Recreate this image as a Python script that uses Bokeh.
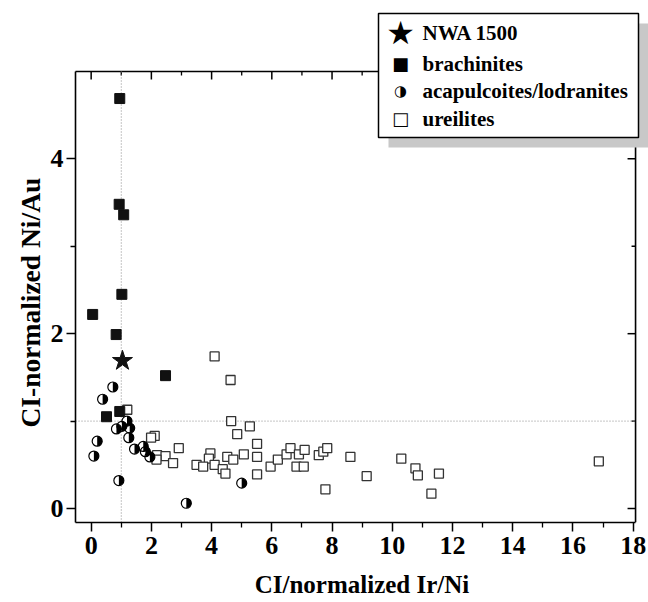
import numpy as np
from bokeh.plotting import figure
from bokeh.models import Range1d, FixedTicker, BoxAnnotation, Label, Title
from bokeh.embed import file_html
from bokeh.resources import INLINE

# ---------------- data ----------------
nwa_x = [1.04]
nwa_y = [1.69]

brach_x = [0.95, 0.93, 1.08, 1.02, 0.05, 0.83, 2.47, 0.51, 0.95]
brach_y = [4.69, 3.48, 3.36, 2.45, 2.22, 1.99, 1.52, 1.05, 1.11]

acap_x = [0.72, 0.38, 1.19, 0.84, 1.02, 1.28, 0.20, 1.25, 1.44, 1.73, 1.80, 1.95, 0.09, 0.92, 3.16, 5.00]
acap_y = [1.39, 1.25, 1.00, 0.91, 0.94, 0.92, 0.77, 0.81, 0.68, 0.71, 0.65, 0.59, 0.60, 0.32, 0.06, 0.29]

ureil_x = [1.20, 2.11, 1.99, 2.91, 2.19, 2.47, 2.17, 2.72, 4.10, 4.63, 4.65, 5.27, 4.85, 5.51,
           3.96, 3.91, 4.52, 4.72, 5.07, 5.51, 3.50, 3.72, 4.10, 4.37, 4.46, 5.51, 5.96, 6.20,
           6.49, 6.62, 6.90, 7.09, 6.82, 7.06, 7.56, 7.71, 7.84, 8.61, 9.15, 7.78, 10.30, 10.77,
           10.85, 11.55, 11.30, 16.86]
ureil_y = [1.13, 0.83, 0.81, 0.69, 0.61, 0.60, 0.56, 0.52, 1.74, 1.47, 1.00, 0.94, 0.85, 0.74,
           0.63, 0.57, 0.59, 0.56, 0.62, 0.59, 0.50, 0.48, 0.50, 0.45, 0.40, 0.39, 0.48, 0.56,
           0.62, 0.69, 0.62, 0.67, 0.48, 0.48, 0.61, 0.65, 0.69, 0.59, 0.37, 0.22, 0.57, 0.46,
           0.38, 0.40, 0.17, 0.54]

x_major = [0, 2, 4, 6, 8, 10, 12, 14, 16, 18]
x_minor = [1, 3, 5, 7, 9, 11, 13, 15, 17]
y_major = [0, 2, 4]
y_minor = [1, 3]
ref_x = 1.0
ref_y = 1.0

x_title = "CI/normalized Ir/Ni"
y_title = "CI-normalized Ni/Au"

# plot box (axes rectangle) in data units
X_LO, X_HI = -0.52, 18.08
Y_LO, Y_HI = -0.16, 5.0

legend_labels = ["NWA 1500", "brachinites", "acapulcoites/lodranites", "ureilites"]
legend_symbols = ["\u2605", "\u25A0", "\u25D1", "\u25A1"]

FONT = "Liberation Serif"
FW, FH = 573, 514          # frame extends beyond the axes box (room for legend)
XR = (X_LO, 18.51)
YR = (Y_LO, 5.72)
px_x = FW / (XR[1] - XR[0])
px_y = FH / (YR[1] - YR[0])

p = figure(frame_width=FW, frame_height=FH,
           x_range=Range1d(*XR), y_range=Range1d(*YR),
           output_backend="svg", toolbar_location=None,
           x_axis_label=x_title,
           min_border_left=75, min_border_right=0, min_border_top=8, min_border_bottom=80)
p.outline_line_color = None
p.xgrid.visible = False
p.ygrid.visible = False
p.background_fill_color = "white"
p.border_fill_color = "white"

LW = 1.6
for ax, ticks, minors, bnds in ((p.xaxis[0], x_major, x_minor, (X_LO, X_HI)),
                                (p.yaxis[0], y_major, y_minor, (Y_LO, Y_HI))):
    ax.ticker = FixedTicker(ticks=ticks, minor_ticks=minors)
    ax.bounds = bnds
    ax.axis_line_color = "black"
    ax.axis_line_width = LW
    ax.major_tick_line_color = "black"
    ax.minor_tick_line_color = "black"
    ax.major_tick_line_width = 1.5
    ax.minor_tick_line_width = 1.3
    ax.major_tick_in, ax.major_tick_out = 0, 9
    ax.minor_tick_in, ax.minor_tick_out = 0, 5
    ax.major_label_text_font = FONT
    ax.major_label_text_font_style = "bold"
    ax.major_label_text_font_size = "26px"
    ax.major_label_text_color = "black"
    ax.axis_label_text_font = FONT
    ax.axis_label_text_font_style = "bold"
    ax.axis_label_text_color = "black"

xa = p.xaxis[0]
ya = p.yaxis[0]
xa.major_label_standoff = 5
xa.axis_label_standoff = 14
xa.axis_label_text_font_size = "25px"
ya.major_label_standoff = 3

# y title as a left-side title so that it can be centred on the axes box
p.add_layout(Title(text=y_title, align="left", offset=95, standoff=4,
                   text_font=FONT, text_font_style="bold", text_font_size="27.5px",
                   text_color="black"), "left")

# top and right sides of the axes box, with inward ticks
tick_major_y = 8 / px_y
tick_minor_y = 4 / px_y
tick_major_x = 8 / px_x
tick_minor_x = 4 / px_x
p.segment(x0=[X_LO - 3 / px_x, X_HI], y0=[Y_HI, Y_LO], x1=[X_HI, X_HI], y1=[Y_HI, Y_HI],
          line_color="black", line_width=LW)
p.segment(x0=x_major, y0=[Y_HI] * len(x_major), x1=x_major,
          y1=[Y_HI - tick_major_y] * len(x_major), line_color="black", line_width=1.5)
p.segment(x0=x_minor, y0=[Y_HI] * len(x_minor), x1=x_minor,
          y1=[Y_HI - tick_minor_y] * len(x_minor), line_color="black", line_width=1.3)
p.segment(x0=[X_HI] * len(y_major), y0=y_major, x1=[X_HI - tick_major_x] * len(y_major),
          y1=y_major, line_color="black", line_width=1.5)
p.segment(x0=[X_HI] * len(y_minor), y0=y_minor, x1=[X_HI - tick_minor_x] * len(y_minor),
          y1=y_minor, line_color="black", line_width=1.3)

# dotted reference lines at 1
p.segment(x0=[ref_x, X_LO], y0=[Y_LO, ref_y], x1=[ref_x, X_HI], y1=[Y_HI, ref_y],
          line_color="#8a8a8a", line_dash="1 2", line_width=1)

# ureilites
p.scatter(ureil_x, ureil_y, marker="square", size=9, fill_color="white",
          line_color="#333333", line_width=1.3)
# acapulcoites / lodranites (half-filled circles)
p.scatter(acap_x, acap_y, marker="circle", size=10, fill_color="white", line_color=None)
p.wedge(acap_x, acap_y, radius=5, radius_units="screen", start_angle=-np.pi / 2,
        end_angle=np.pi / 2, fill_color="black", line_color=None)
p.scatter(acap_x, acap_y, marker="circle", size=10, fill_alpha=0, line_color="black",
          line_width=1.2)
# brachinites
p.scatter(brach_x, brach_y, marker="square", size=10, fill_color="#111111",
          line_color="#111111")
# NWA 1500
p.scatter(nwa_x, nwa_y, marker="star", size=21, fill_color="#111111", line_color="#111111")

# ---------------- legend (manual, with shadow) ----------------
p.add_layout(BoxAnnotation(left=313, right=573, top=499, bottom=375,
                           left_units="screen", right_units="screen",
                           top_units="screen", bottom_units="screen",
                           fill_color="#c8c8c8", fill_alpha=1.0, line_alpha=0))
p.add_layout(BoxAnnotation(left=303, right=563, top=509, bottom=385,
                           left_units="screen", right_units="screen",
                           top_units="screen", bottom_units="screen",
                           fill_color="white", fill_alpha=1.0, line_color="black",
                           line_width=1.5, line_alpha=1.0))
rows_y = [490, 459, 432, 404]
sym_sizes = ["32px", "18px", "15px", "18px"]
for lab, sym, ry, ss in zip(legend_labels, legend_symbols, rows_y, sym_sizes):
    p.add_layout(Label(x=325, y=ry, x_units="screen", y_units="screen", text=sym,
                       text_font="DejaVu Sans", text_font_size=ss, text_align="center",
                       text_baseline="middle", text_color="black"))
    p.add_layout(Label(x=347, y=ry, x_units="screen", y_units="screen", text=lab,
                       text_font=FONT, text_font_style="bold", text_font_size="21px",
                       text_align="left", text_baseline="middle", text_color="black"))

open("out.html", "w").write(file_html(p, INLINE))
